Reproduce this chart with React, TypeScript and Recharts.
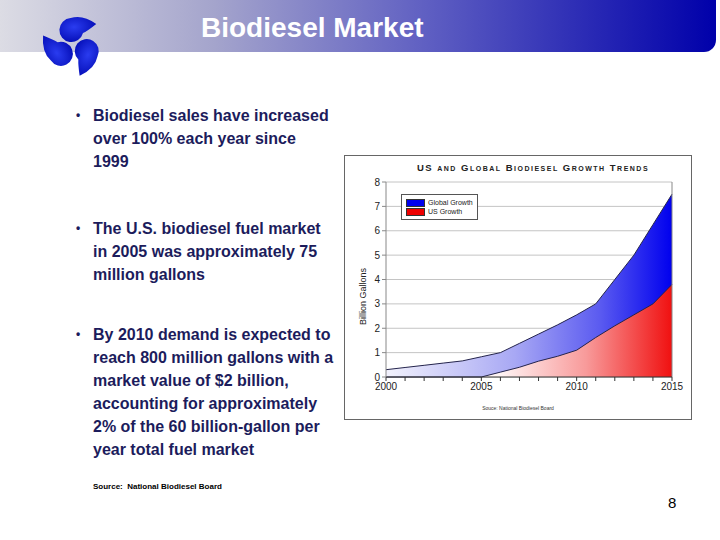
import React from 'react';
import {
  AreaChart, Area, XAxis, YAxis, CartesianGrid, ReferenceLine,
} from 'recharts';

const years = [2000, 2001, 2002, 2003, 2004, 2005, 2006, 2007, 2008, 2009, 2010, 2011, 2012, 2013, 2014, 2015];
const globalGrowth = [0.3, 0.39, 0.48, 0.57, 0.66, 0.83, 1.0, 1.38, 1.76, 2.14, 2.55, 3.0, 4.0, 5.0, 6.25, 7.5];
const usGrowth = [0, 0, 0, 0, 0, 0, 0.2, 0.4, 0.65, 0.85, 1.1, 1.62, 2.1, 2.55, 3.0, 3.8];
const yTicks = [0, 1, 2, 3, 4, 5, 6, 7, 8];
const labeledYears = [2000, 2005, 2010, 2015];
const seriesNames = ['Global Growth', 'US Growth'];
const seriesColors = ['#0000ee', '#ee0000'];

const data = years.map((y, i) => ({ year: y, global: globalGrowth[i], us: usGrowth[i] }));

const FONT = '"Liberation Sans", Arial, sans-serif';
const TEXT = '#1c1c5c';

const bullets = [
  { top: 104, lines: ['Biodiesel sales have increased', 'over 100% each year since', '1999'] },
  { top: 217, lines: ['The U.S. biodiesel fuel market', 'in 2005 was approximately 75', 'million gallons'] },
  { top: 323, lines: ['By 2010 demand is expected to', 'reach 800 million gallons with a', 'market value of $2 billion,', 'accounting for approximately', '2% of the 60 billion-gallon per', 'year total fuel market'] },
];

const Logo = () => {
  // one comma-shaped drop, repeated three times around the centre
  const drop = 'M 25 -19 Q 12 -30 0 -27 A 12 12 0 1 0 11 -11 Q 16 -13 25 -19 Z';
  return (
    <svg width={90} height={80} style={{ position: 'absolute', left: 30, top: 5 }}>
      <defs>
        <radialGradient id="logoG" cx="40%" cy="40%" r="70%">
          <stop offset="0%" stopColor="#2a3cf0" />
          <stop offset="100%" stopColor="#0008b0" />
        </radialGradient>
      </defs>
      <g transform="translate(43,40)">
        {[-5, 115, 235].map(r => (
          <path key={r} d={drop} fill="url(#logoG)" transform={`rotate(${r})`} />
        ))}
      </g>
    </svg>
  );
};

export default function App() {
  return (
    <div style={{ position: 'absolute', left: 0, top: 0, width: 720, height: 540, background: '#fff', fontFamily: FONT, overflow: 'hidden' }}>
      <div style={{
        position: 'absolute', left: 0, top: 0, width: 716, height: 52,
        borderBottomRightRadius: 12,
        background: 'linear-gradient(to right, #dcdce4 0%, #a4a4cc 30%, #5e5ec2 60%, #0000aa 100%)',
      }} />
      <Logo />
      <div style={{ position: 'absolute', left: 201, top: 11, fontSize: 28, fontWeight: 'bold', color: '#fff', lineHeight: '34px' }}>
        Biodiesel Market
      </div>

      {bullets.map((b, i) => (
        <div key={i} style={{ position: 'absolute', left: 76, top: b.top, fontSize: 16, fontWeight: 'bold', color: TEXT, lineHeight: '23px', whiteSpace: 'nowrap' }}>
          {b.lines.map((l, j) => (
            <div key={j} style={{ position: 'relative', paddingLeft: 17 }}>
              {j === 0 && <span style={{ position: 'absolute', left: 0, fontSize: 12 }}>•</span>}
              {l}
            </div>
          ))}
        </div>
      ))}
      <div style={{ position: 'absolute', left: 93, top: 482, fontSize: 8, fontWeight: 'bold', color: '#000', whiteSpace: 'pre' }}>
        {'Source:  National Biodiesel Board'}
      </div>
      <div style={{ position: 'absolute', left: 668, top: 494, fontSize: 15, color: '#000' }}>8</div>

      <div style={{ position: 'absolute', left: 344, top: 155, width: 346, height: 263, border: '1px solid #666', background: '#fff' }}>
        <div style={{ position: 'absolute', left: 15, width: 346, top: 6, textAlign: 'center', fontSize: 9.5, fontWeight: 'bold', fontVariant: 'small-caps', letterSpacing: 1.5, color: '#222', whiteSpace: 'nowrap' }}>
          US and Global Biodiesel Growth Trends
        </div>
        <div style={{ position: 'absolute', left: 0, width: 346, top: 249, textAlign: 'center', fontSize: 5, color: '#333' }}>
          Souce: National Biodiesel Board
        </div>
        <AreaChart width={346} height={263} data={data} margin={{ top: 26, right: 19, left: 0, bottom: 0 }}>
          <defs>
            <linearGradient id="gBlue" x1="0" y1="0" x2="1" y2="0">
              <stop offset="0%" stopColor="#f2f2fc" />
              <stop offset="45%" stopColor="#a8a8f4" />
              <stop offset="75%" stopColor="#5a5af0" />
              <stop offset="100%" stopColor="#0000ee" />
            </linearGradient>
            <linearGradient id="gRed" x1="0" y1="0" x2="1" y2="0">
              <stop offset="0%" stopColor="#ffffff" />
              <stop offset="40%" stopColor="#fff4f4" />
              <stop offset="70%" stopColor="#f89a9a" />
              <stop offset="100%" stopColor="#f01010" />
            </linearGradient>
          </defs>
          <CartesianGrid vertical={false} stroke="#c4c4c4" />
          <XAxis
            dataKey="year" type="number" domain={[2000, 2015]} ticks={years}
            tickFormatter={(v: number) => (labeledYears.includes(v) ? String(v) : '')}
            height={42} stroke="#333" tickSize={4}
            tick={{ fontSize: 10, fill: '#222', fontFamily: FONT }}
            interval={0}
          />
          <YAxis
            domain={[0, 8]} ticks={yTicks} width={41} stroke="#888" tickSize={4}
            tick={{ fontSize: 10, fill: '#222', fontFamily: FONT }}
            label={{ value: 'Billion Gallons', angle: -90, position: 'center', dx: -3, dy: 17, fontSize: 9, fill: '#222', fontFamily: FONT }}
          />
          <Area name={seriesNames[0]} dataKey="global" type="linear" fill="url(#gBlue)" fillOpacity={1} stroke="#24244c" strokeWidth={1} isAnimationActive={false} />
          <Area name={seriesNames[1]} dataKey="us" type="linear" fill="url(#gRed)" fillOpacity={1} stroke="#24244c" strokeWidth={1} isAnimationActive={false} />
          <ReferenceLine x={2015} stroke="#888" />
        </AreaChart>
        <div style={{ position: 'absolute', left: 56, top: 38, width: 67, border: '1px solid #555', background: '#fff', padding: '3px 4px', fontSize: 7, color: '#222', whiteSpace: 'nowrap' }}>
          {seriesNames.map((n, i) => (
            <div key={n} style={{ display: 'flex', alignItems: 'center', height: 9 }}>
              <span style={{ flexShrink: 0, display: 'inline-block', width: 17, height: 6, background: seriesColors[i], border: '1px solid #333', marginRight: 3 }} />
              <span>{n}</span>
            </div>
          ))}
        </div>
      </div>
    </div>
  );
}
